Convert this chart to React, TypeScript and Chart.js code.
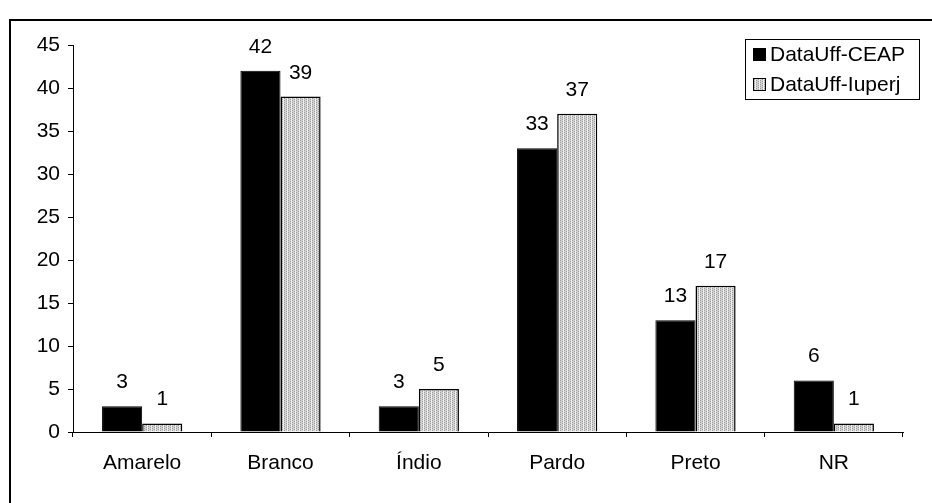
import React, { useEffect, useRef } from "react";
import { Chart, registerables } from "chart.js";

Chart.register(...registerables);

const categories = ["Amarelo", "Branco", "Índio", "Pardo", "Preto", "NR"];
const ceapValues = [3, 42, 3, 33, 13, 6];
const iuperjValues = [1, 39, 5, 37, 17, 1];
const seriesNames = ["DataUff-CEAP", "DataUff-Iuperj"];
const yMin = 0;
const yMax = 45;
const yStep = 5;

const FONT = "'Liberation Sans', Arial, sans-serif";

function makePattern(): CanvasPattern | string {
  const c = document.createElement("canvas");
  c.width = 4;
  c.height = 4;
  const ctx = c.getContext("2d");
  if (!ctx) return "#c8c8c8";
  ctx.fillStyle = "#d2d2d2";
  ctx.fillRect(0, 0, 4, 4);
  ctx.fillStyle = "#9a9a9a";
  ctx.fillRect(0, 0, 1, 1);
  ctx.fillRect(2, 1, 1, 1);
  ctx.fillRect(0, 2, 1, 1);
  ctx.fillRect(2, 3, 1, 1);
  ctx.fillStyle = "#f0f0f0";
  ctx.fillRect(3, 0, 1, 4);
  return ctx.createPattern(c, "repeat") || "#c8c8c8";
}

const valueLabels = {
  id: "valueLabels",
  afterDatasetsDraw(chart: any) {
    const ctx = chart.ctx;
    ctx.save();
    ctx.font = `21px ${FONT}`;
    ctx.fillStyle = "#000";
    ctx.textAlign = "center";
    ctx.textBaseline = "alphabetic";
    chart.data.datasets.forEach((ds: any, di: number) => {
      const meta = chart.getDatasetMeta(di);
      meta.data.forEach((bar: any, i: number) => {
        ctx.fillText(String(ds.data[i]), bar.x, bar.y - 18);
      });
    });
    ctx.restore();
  },
};

const boxLegend = {
  id: "boxLegend",
  afterDraw(chart: any) {
    const ctx = chart.ctx;
    const left = 745;
    const top = 39;
    const w = 174;
    const h = 60;
    ctx.save();
    ctx.fillStyle = "#fff";
    ctx.fillRect(left, top, w, h);
    ctx.strokeStyle = "#000";
    ctx.lineWidth = 1;
    ctx.strokeRect(left + 0.5, top + 0.5, w, h);
    ctx.font = `21px ${FONT}`;
    ctx.textBaseline = "middle";
    ctx.textAlign = "left";
    chart.data.datasets.forEach((ds: any, i: number) => {
      const cy = top + 15 + i * 30;
      ctx.fillStyle = ds.backgroundColor;
      ctx.fillRect(left + 8, cy - 6, 13, 13);
      ctx.strokeStyle = "#000";
      ctx.strokeRect(left + 8.5, cy - 5.5, 12, 12);
      ctx.fillStyle = "#000";
      ctx.fillText(ds.label, left + 25, cy + 1);
    });
    ctx.restore();
  },
};

export default function App() {
  const ref = useRef<HTMLCanvasElement>(null);

  useEffect(() => {
    if (!ref.current) return;
    const pattern = makePattern();
    const chart = new Chart(ref.current, {
      type: "bar",
      data: {
        labels: categories,
        datasets: [
          {
            label: seriesNames[0],
            data: ceapValues,
            backgroundColor: "#000000",
            borderColor: "#000000",
            borderWidth: 1,
            categoryPercentage: 0.58,
            barPercentage: 1,
          },
          {
            label: seriesNames[1],
            data: iuperjValues,
            backgroundColor: pattern as any,
            borderColor: "#000000",
            borderWidth: 1.5,
            categoryPercentage: 0.58,
            barPercentage: 1,
          },
        ],
      },
      options: {
        responsive: false,
        animation: false,
        devicePixelRatio: 1,
        layout: { padding: { left: 0, top: 45, right: 29, bottom: 0 } },
        plugins: {
          legend: { display: false },
          tooltip: { enabled: false },
          title: { display: false },
        },
        scales: {
          x: {
            afterFit: (scale: any) => {
              scale.height = 71;
            },
            grid: {
              offset: true,
              drawOnChartArea: false,
              drawTicks: true,
              tickLength: 5,
              color: "#000",
            },
            border: { display: true, color: "#000", width: 1 },
            ticks: {
              color: "#000",
              font: { family: FONT, size: 21 },
              padding: 14,
              maxRotation: 0,
            },
          },
          y: {
            min: yMin,
            max: yMax,
            afterFit: (scale: any) => {
              scale.width = 73;
            },
            grid: {
              drawOnChartArea: false,
              drawTicks: true,
              tickLength: 5,
              color: "#000",
            },
            border: { display: true, color: "#000", width: 1 },
            ticks: {
              stepSize: yStep,
              color: "#000",
              font: { family: FONT, size: 21 },
              padding: 8,
            },
          },
        },
      },
      plugins: [valueLabels, boxLegend],
    });
    return () => chart.destroy();
  }, []);

  return (
    <div style={{ position: "absolute", left: 0, top: 0, width: 932, height: 503, background: "#fff", overflow: "hidden" }}>
      <div
        style={{
          position: "absolute",
          left: 9,
          top: 19,
          width: 960,
          height: 520,
          borderLeft: "2px solid #000",
          borderTop: "2px solid #000",
        }}
      />
      <canvas
        ref={ref}
        width={932}
        height={503}
        style={{ position: "absolute", left: 0, top: 0, width: 932, height: 503 }}
      />
    </div>
  );
}
